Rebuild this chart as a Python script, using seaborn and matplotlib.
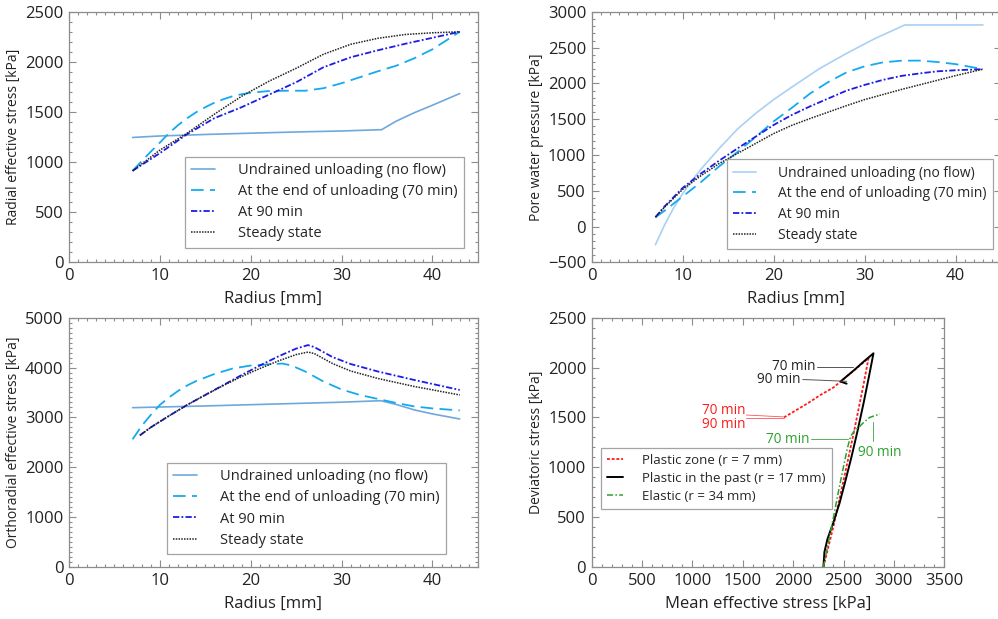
import matplotlib
matplotlib.use("Agg")
import matplotlib.pyplot as plt
import seaborn as sns
import numpy as np
from matplotlib.ticker import MultipleLocator

# ---------------- data ----------------
# Panel 1: radial effective stress [kPa] vs radius [mm]
rad_undr_r = [7, 10, 15, 20, 25, 30, 34.4, 36, 38, 40, 43]
rad_undr_s = [1247, 1262, 1277, 1290, 1302, 1312, 1325, 1410, 1495, 1570, 1687]
rad_70_r = [7, 8, 9, 10, 11, 12, 13, 14, 15, 16, 17, 18, 19, 20, 22, 24, 26, 28, 30, 32, 34, 36, 38, 40, 43]
rad_70_s = [913, 1010, 1105, 1195, 1290, 1370, 1440, 1500, 1550, 1595, 1630, 1660, 1680, 1695, 1712, 1715,
            1715, 1740, 1790, 1850, 1910, 1965, 2040, 2130, 2305]
rad_90_r = [7, 10, 13, 16, 19, 22, 25, 28, 31, 34, 37, 40, 43]
rad_90_s = [913, 1090, 1280, 1440, 1550, 1675, 1800, 1950, 2050, 2120, 2185, 2245, 2305]
rad_ss_r = [7, 10, 13, 16, 19, 22, 25, 28, 31, 34, 37, 40, 43]
rad_ss_s = [913, 1120, 1290, 1480, 1660, 1810, 1940, 2080, 2180, 2240, 2278, 2295, 2305]

# Panel 2: pore water pressure [kPa] vs radius [mm]
pwp_undr_r = [7, 8, 9, 10, 11, 12, 14, 16, 18, 20, 22, 25, 28, 31, 34.4, 43]
pwp_undr_p = [-255, 20, 260, 460, 640, 800, 1090, 1360, 1580, 1775, 1950, 2205, 2420, 2620, 2818, 2818]
pwp_70_r = [7, 8, 10, 12, 14, 16, 18, 20, 22, 24, 26, 28, 30, 32, 34, 36, 38, 40, 43]
pwp_70_p = [130, 220, 420, 620, 840, 1040, 1250, 1470, 1660, 1860, 2020, 2155, 2240, 2295, 2318, 2320,
            2300, 2270, 2200]
pwp_90_r = [7, 8, 10, 12, 14, 16, 18, 20, 22, 24, 26, 28, 30, 32, 34, 36, 38, 40, 43]
pwp_90_p = [130, 280, 540, 740, 920, 1090, 1255, 1420, 1560, 1680, 1790, 1900, 1980, 2050, 2105, 2140,
            2170, 2185, 2200]
pwp_ss_r = [7, 8, 10, 12, 14, 16, 18, 20, 22, 24, 26, 28, 30, 32, 34, 36, 38, 40, 43]
pwp_ss_p = [130, 270, 520, 710, 880, 1020, 1160, 1300, 1415, 1510, 1600, 1690, 1775, 1845, 1915, 1980,
            2045, 2110, 2200]

# Panel 3: orthoradial effective stress [kPa] vs radius [mm]
ort_undr_r = [7, 15, 20, 25, 30, 34.3, 36, 38, 40, 43]
ort_undr_s = [3195, 3230, 3255, 3280, 3305, 3335, 3260, 3150, 3070, 2968]
ort_70_r = [7, 8, 9, 10, 11, 12, 13, 14, 16, 18, 20, 22, 23.5, 24.5, 26, 28, 30, 32, 34, 36, 38, 40, 43]
ort_70_s = [2560, 2830, 3050, 3250, 3400, 3530, 3640, 3730, 3870, 3980, 4040, 4065, 4080, 4040, 3920,
            3720, 3560, 3450, 3370, 3290, 3220, 3180, 3140]
ort_90_r = [7.8, 9, 11, 13, 15, 17, 19, 21, 23, 25, 26.3, 27, 28, 29, 31, 34, 38, 43]
ort_90_s = [2640, 2800, 3030, 3250, 3450, 3650, 3850, 4040, 4220, 4380, 4450, 4410, 4310, 4210, 4070,
            3920, 3750, 3550]
ort_ss_r = [7.8, 9, 11, 13, 15, 17, 19, 21, 23, 25, 26.3, 27, 28, 29, 31, 34, 38, 43]
ort_ss_s = [2640, 2800, 3030, 3250, 3450, 3640, 3820, 3980, 4130, 4260, 4310, 4280, 4180, 4080, 3930,
            3780, 3620, 3450]

# Panel 4: stress paths (mean effective stress p' vs deviatoric stress q) [kPa]
pz_p = [2300, 2400, 2500, 2600, 2700, 2748, 2650, 2500, 2400, 2270, 2150, 2050, 1909]
pz_q = [0, 410, 870, 1340, 1840, 2095, 2010, 1885, 1800, 1725, 1645, 1585, 1500]
pp_p = [2300, 2310, 2340, 2400, 2460, 2520, 2580, 2640, 2700, 2750, 2797, 2700, 2600, 2470, 2530]
pp_q = [0, 150, 280, 450, 640, 870, 1110, 1370, 1650, 1900, 2143, 2060, 1970, 1860, 1838]
el_p = [2300, 2350, 2400, 2450, 2500, 2540, 2570, 2610, 2650, 2700, 2760, 2861]
el_q = [0, 250, 500, 760, 1010, 1200, 1310, 1370, 1400, 1450, 1500, 1535]

legend_labels = ["Undrained unloading (no flow)", "At the end of unloading (70 min)",
                 "At 90 min", "Steady state"]
path_labels = ["Plastic zone (r = 7 mm)", "Plastic in the past (r = 17 mm)", "Elastic (r = 34 mm)"]

# ---------------- style ----------------
sns.set_style("ticks")
plt.rcParams['font.family'] = ['Open Sans', 'DejaVu Sans']
plt.rcParams['font.size'] = 10.5
plt.rcParams['axes.edgecolor'] = '#8c8c8c'
plt.rcParams['xtick.color'] = '#8c8c8c'
plt.rcParams['ytick.color'] = '#8c8c8c'
plt.rcParams['xtick.labelcolor'] = '#222222'
plt.rcParams['ytick.labelcolor'] = '#222222'
plt.rcParams['axes.labelcolor'] = '#222222'

TICK_FS = 12
XLAB_FS = 12
YLAB_FS = 10

C_UNDR = '#6fa8dc'
C_UNDR2 = '#a9d0f5'
C_70 = '#14aaf0'
C_90 = '#1c1ce6'
C_SS = '#222222'

LS_70 = (0, (7, 3.5))
LS_90 = (0, (3.5, 1.2, 1.0, 1.2))
LS_SS = (0, (1, 0.8))

fig = plt.figure(figsize=(9.98, 6.19), dpi=100)
ax1 = fig.add_axes([0.0691, 0.5767, 0.4098, 0.4034])
ax2 = fig.add_axes([0.5929, 0.5763, 0.4103, 0.4044])
ax3 = fig.add_axes([0.0691, 0.0840, 0.4098, 0.4028])
ax4 = fig.add_axes([0.5929, 0.0840, 0.3533, 0.4028])


def style_axis(ax):
    ax.tick_params(which='both', direction='in', top=True, right=True, width=0.8)
    ax.tick_params(which='major', length=5, labelsize=TICK_FS, pad=4)
    ax.tick_params(which='minor', length=2.5)
    for s in ax.spines.values():
        s.set_linewidth(0.9)
        s.set_color('#8c8c8c')


def make_legend(ax, loc, bbox, fs, hl, htp, ls):
    leg = ax.legend(loc=loc, bbox_to_anchor=bbox, fontsize=fs, frameon=True,
                    fancybox=False, edgecolor='#8c8c8c', handlelength=hl,
                    handletextpad=htp, labelspacing=ls, borderpad=0.45,
                    borderaxespad=0)
    leg.get_frame().set_linewidth(0.9)
    return leg


def radius_panel(ax, data, undr_color, ylabel, ylim, ymajor, lbbox, lfs):
    (ur, us), (r70, s70), (r90, s90), (rs, ss) = data
    sns.lineplot(x=ur, y=us, ax=ax, color=undr_color, linewidth=1.2, label=legend_labels[0])
    sns.lineplot(x=r70, y=s70, ax=ax, color=C_70, linewidth=1.3, linestyle=LS_70, label=legend_labels[1])
    sns.lineplot(x=r90, y=s90, ax=ax, color=C_90, linewidth=1.3, linestyle=LS_90, label=legend_labels[2])
    sns.lineplot(x=rs, y=ss, ax=ax, color=C_SS, linewidth=1.1, linestyle=LS_SS, label=legend_labels[3])
    ax.set_xlim(0, 45)
    ax.set_ylim(*ylim)
    ax.xaxis.set_major_locator(MultipleLocator(10))
    ax.xaxis.set_minor_locator(MultipleLocator(1))
    ax.yaxis.set_major_locator(MultipleLocator(ymajor))
    ax.yaxis.set_minor_locator(MultipleLocator(100))
    ax.set_xlabel("Radius [mm]", fontsize=XLAB_FS, labelpad=5)
    ax.set_ylabel(ylabel, fontsize=YLAB_FS, labelpad=3)
    make_legend(ax, 'lower right', lbbox, lfs, 1.6, 1.6, 0.42)
    style_axis(ax)


radius_panel(ax1, [(rad_undr_r, rad_undr_s), (rad_70_r, rad_70_s), (rad_90_r, rad_90_s), (rad_ss_r, rad_ss_s)],
             C_UNDR, "Radial effective stress [kPa]", (0, 2500), 500, (0.966, 0.056), 10.5)
radius_panel(ax2, [(pwp_undr_r, pwp_undr_p), (pwp_70_r, pwp_70_p), (pwp_90_r, pwp_90_p), (pwp_ss_r, pwp_ss_p)],
             C_UNDR2, "Pore water pressure [kPa]", (-500, 3000), 500, (0.979, 0.052), 10)
radius_panel(ax3, [(ort_undr_r, ort_undr_s), (ort_70_r, ort_70_s), (ort_90_r, ort_90_s), (ort_ss_r, ort_ss_s)],
             C_UNDR, "Orthoradial effective stress [kPa]", (0, 5000), 1000, (0.922, 0.051), 10.5)

# ---------------- panel 4 ----------------
sns.lineplot(x=pz_p, y=pz_q, ax=ax4, sort=False, estimator=None, color='#ff1a1a', linewidth=1.3,
             linestyle=(0, (1.6, 1.0)), label=path_labels[0])
sns.lineplot(x=pp_p, y=pp_q, ax=ax4, sort=False, estimator=None, color='black', linewidth=1.4,
             label=path_labels[1])
sns.lineplot(x=el_p, y=el_q, ax=ax4, sort=False, estimator=None, color='#2ca02c', linewidth=1.1,
             linestyle=(0, (4, 1.5, 1, 1.5)), label=path_labels[2])
ax4.set_xlim(0, 3500)
ax4.set_ylim(0, 2500)
ax4.xaxis.set_major_locator(MultipleLocator(500))
ax4.xaxis.set_minor_locator(MultipleLocator(100))
ax4.yaxis.set_major_locator(MultipleLocator(500))
ax4.yaxis.set_minor_locator(MultipleLocator(100))
ax4.set_xlabel("Mean effective stress [kPa]", fontsize=XLAB_FS, labelpad=5)
ax4.set_ylabel("Deviatoric stress [kPa]", fontsize=YLAB_FS, labelpad=3)
make_legend(ax4, 'lower left', (0.026, 0.233), 9.5, 1.2, 1.5, 0.38)
style_axis(ax4)

# annotations
ann_fs = 9.8
ax4.text(2217, 2009, "70 min", ha='right', va='center', fontsize=ann_fs, color='#222222')
ax4.plot([2240, 2597], [2009, 2009], color='#555555', linewidth=0.7)
ax4.text(2077, 1880, "90 min", ha='right', va='center', fontsize=ann_fs, color='#222222')
ax4.plot([2095, 2531], [1880, 1862], color='#555555', linewidth=0.7)

ax4.text(1522, 1570, "70 min", ha='right', va='center', fontsize=ann_fs, color='#ff1a1a')
ax4.text(1522, 1425, "90 min", ha='right', va='center', fontsize=ann_fs, color='#ff1a1a')
ax4.plot([1535, 1905], [1524, 1505], color='#ff5555', linewidth=0.6)
ax4.plot([1535, 1905], [1497, 1497], color='#ff5555', linewidth=0.6)

ax4.text(2160, 1280, "70 min", ha='right', va='center', fontsize=ann_fs, color='#2ca02c')
ax4.plot([2180, 2547], [1280, 1280], color='#55b055', linewidth=0.7)
ax4.text(2860, 1150, "90 min", ha='center', va='center', fontsize=ann_fs, color='#2ca02c')
ax4.plot([2796, 2796], [1457, 1265], color='#55b055', linewidth=0.7)

fig.savefig("out.png", dpi=100)
